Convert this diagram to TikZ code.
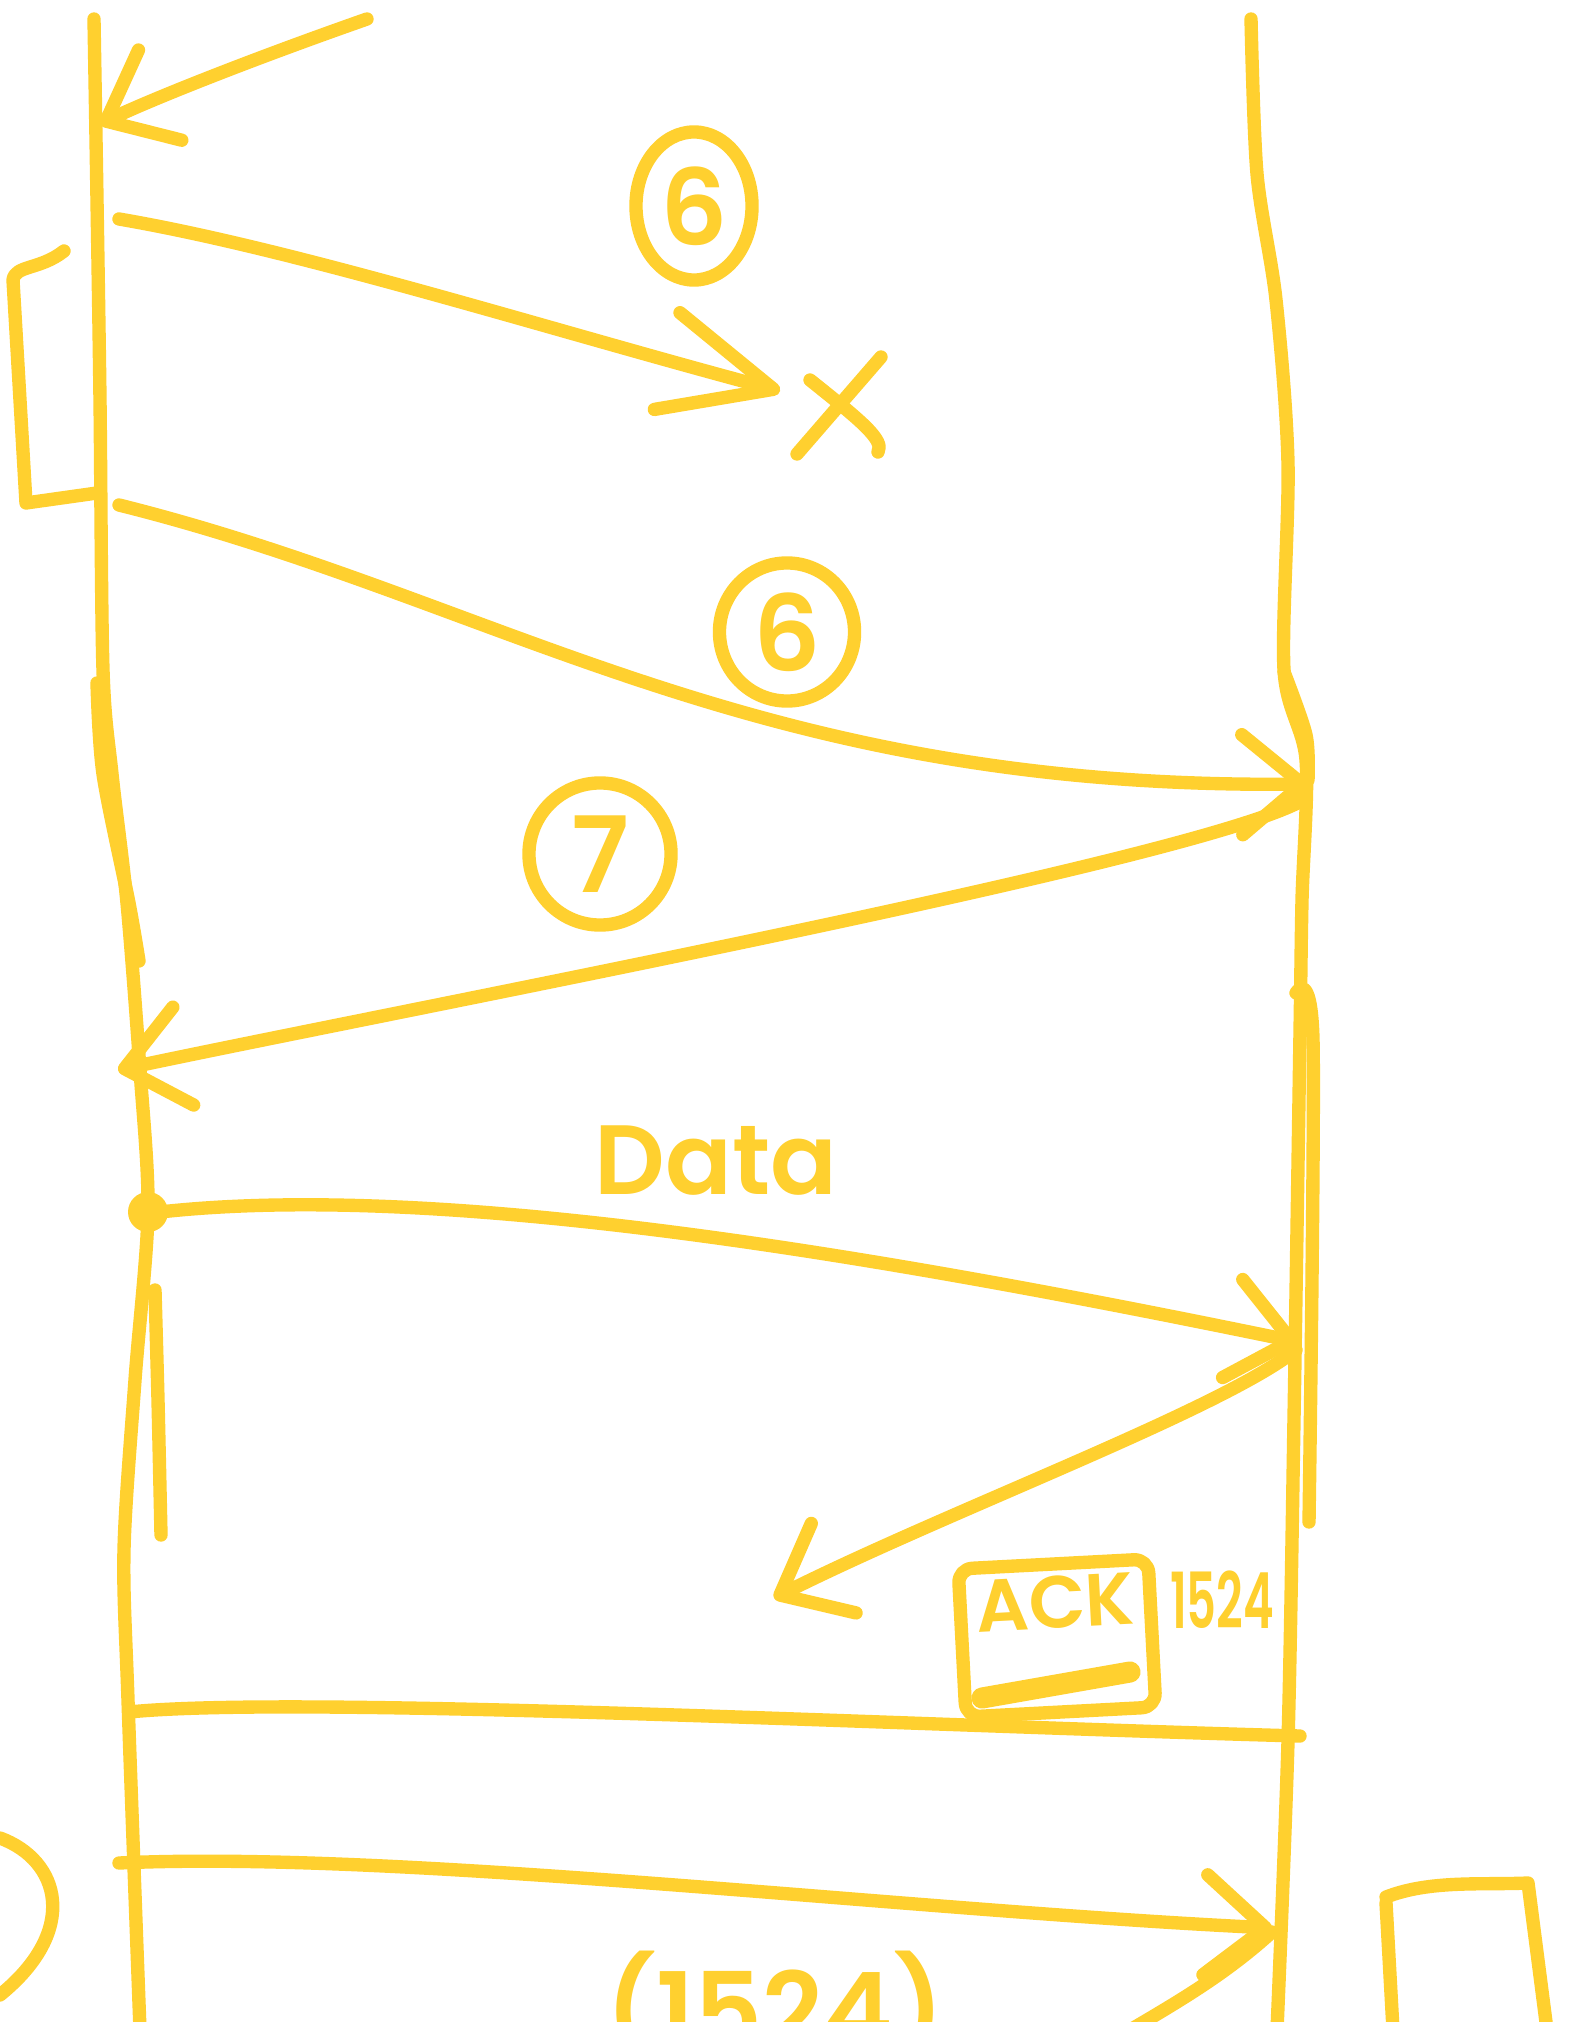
\documentclass[tikz,border=0pt]{standalone}
\usepackage{fontspec}
\setmainfont{Poppins}[BoldFont={Poppins SemiBold}]
\usetikzlibrary{arrows.meta,shapes.geometric}
\definecolor{marker}{RGB}{255,208,47}

\begin{document}
\begin{tikzpicture}[x=0.01cm,y=-0.01cm]
        \tikzset{ink/.style={draw=marker,line width=3.8pt,line cap=round,line join=round},
            msg/.style={ink,-{Straight Barb[round,length=6mm,width=10mm]}},
            lost/.style={ink,-{Straight Barb[round,length=11mm,width=10mm]}},
            num/.style={ink,ellipse,text=marker,inner sep=0pt,font=\fontsize{30}{30}\selectfont\bfseries},
            note/.style={text=marker,inner sep=0pt},
            ackbox/.style={ink,rounded corners=4pt,text=marker,inner xsep=3pt,inner ysep=4pt,
                font=\fontsize{21}{21}\selectfont\bfseries,text height=0.5cm,text depth=0.7cm,minimum width=1.9cm}}
        \clip (0,0) rectangle (1568,2022);
        \fill[white] (0,0) rectangle (1568,2022);

        % lifelines
        \draw[ink] plot[smooth] coordinates {(94,19) (97,200) (100,400) (103,670) (112,774) (127,903)
            (140,1070) (148,1212) (135,1380) (124,1550) (128,1700) (140,2030)};
        \draw[ink] plot[smooth] coordinates {(97,683) (103,774) (129,903) (139,961)};
        \draw[ink] plot[smooth] coordinates {(155,1290) (158,1400) (161,1535)};
        \draw[ink] plot[smooth] coordinates {(1251,19) (1257,174) (1276,300) (1288,464) (1284,670)
            (1306,760) (1302,900) (1300,1032) (1294,1418) (1288,1741) (1277,2030)};
        \draw[ink] plot[smooth] coordinates {(1284,672) (1306,735) (1308,780)};
        \draw[ink] plot[smooth] coordinates {(1296,993) (1313,1040) (1309,1522)};

        % message end points
        \coordinate (s0) at (367,19);   \coordinate (r0) at (100,124);
        \coordinate (s1) at (119,219);  \coordinate (r1) at (780,391);
        \coordinate (s2) at (119,505);  \coordinate (r2) at (1309,784);
        \coordinate (s3) at (1303,800); \coordinate (r3) at (118,1070);
        \coordinate (s4) at (160,1212); \coordinate (r4) at (1298,1342);
        \coordinate (s5) at (1296,1350);\coordinate (r5) at (774,1598);
        \coordinate (s6) at (129,1712); \coordinate (r6) at (1300,1736);
        \coordinate (s7) at (119,1863); \coordinate (r7) at (1272,1928);
        \coordinate (s8) at (1272,1932);\coordinate (r8) at (1130,2030);

        \draw[msg] (s0) .. controls (250,60) and (150,100) .. (r0);
        \draw[lost] (s1) .. controls (300,250) and (550,330) .. (r1);
        \draw[msg] (s2) .. controls (500,600) and (750,790) .. (r2);
        \draw[msg] (s3) .. controls (1200,860) and (400,1010) .. (r3);
        \draw[msg] (s4) .. controls (450,1180) and (900,1260) .. (r4);
        \draw[msg] (s5) .. controls (1220,1410) and (950,1510) .. (r5);
        \draw[ink] (s6) .. controls (300,1695) and (900,1725) .. (r6);
        \draw[msg] (s7) .. controls (400,1850) and (900,1910) .. (r7);
        \draw[ink] (s8) .. controls (1230,1970) and (1190,1995) .. (r8);

        % lost segment and its timer
        \draw[ink] (797,454) -- (881,357);
        \draw[ink] (810,380) .. controls (860,420) and (885,440) .. (878,452);
        \draw[ink] (64,251) .. controls (40,270) and (15,265) .. (13,280) -- (26,503) -- (97,493);

        \node[num,minimum width=1.16cm,minimum height=1.48cm] (six) at (694,206) {6};
        \node[num,minimum width=1.35cm,minimum height=1.38cm] (sixb) at (787,632) {6};
        \node[num,minimum width=1.42cm,minimum height=1.42cm] (seven) at (600,854) {7};

        \fill[marker] (s4) ++(-12,0) circle (20);
        \node[note,font=\fontsize{28}{28}\selectfont\bfseries] (data) at (716,1161) {Data};

        \node[ackbox,rotate=3] (ack) at (1057,1638) {ACK};
        \draw[ink,line width=6pt] (982,1698) -- (1130,1672);
        \node[note,font=\fontsize{22}{22}\selectfont\bfseries,xscale=0.6] (seq) at (1222,1600) {1524};

        % shapes at the lower edge
        \draw[ink] (0,1838) .. controls (60,1860) and (80,1930) .. (0,1995);
        \draw[ink] (1386,1897) .. controls (1430,1880) and (1480,1885) .. (1528,1883) -- (1547,2030);
        \draw[ink] (1386,1903) -- (1393,2030);
        \node[note,anchor=north,font=\fontsize{30}{30}\selectfont\bfseries] (ackno) at (775,1950) {(1524)};
\end{tikzpicture}
\end{document}
